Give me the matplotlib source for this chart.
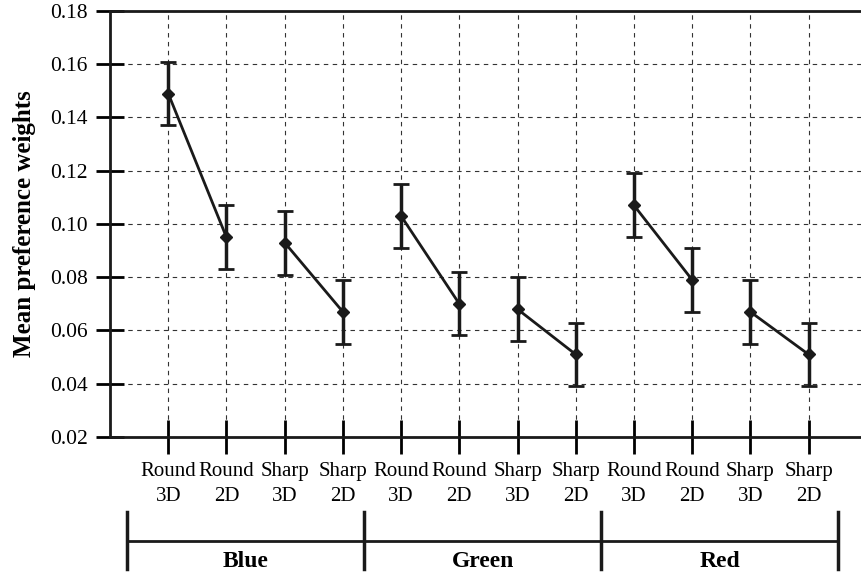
import matplotlib
matplotlib.use("Agg")
import matplotlib.pyplot as plt
import matplotlib.transforms as mtransforms

plt.rcParams["font.family"] = ["Liberation Serif", "DejaVu Serif"]

# data
labels = ["Round\n3D", "Round\n2D", "Sharp\n3D", "Sharp\n2D"] * 3
means = [0.149, 0.095, 0.093, 0.067,
         0.103, 0.070, 0.068, 0.051,
         0.107, 0.079, 0.067, 0.051]
errs = [0.012, 0.012, 0.012, 0.012,
        0.012, 0.0118, 0.012, 0.012,
        0.012, 0.012, 0.012, 0.012]
groups = ["Blue", "Green", "Red"]

x = list(range(1, len(means) + 1))

fig = plt.figure(figsize=(8.61, 5.75), dpi=100)
ax = fig.add_axes([0.1278, 0.24, 0.8722, 0.7409])

# pairs joined by a line
for i in range(0, len(means), 2):
    ax.errorbar(x[i:i + 2], means[i:i + 2], yerr=errs[i:i + 2], color="#1a1a1a",
                lw=2, marker="D", ms=6.5, capsize=6, capthick=2, elinewidth=2.5, zorder=3)

ax.set_xlim(0, 12.9)
ax.set_ylim(0.02, 0.18)
ax.set_yticks([0.02, 0.04, 0.06, 0.08, 0.10, 0.12, 0.14, 0.16, 0.18])
ax.set_yticklabels([f"{v:.2f}" for v in ax.get_yticks()], fontsize=15.5)
ax.set_xticks(x)
ax.set_xticklabels(labels, fontsize=15, linespacing=1.45)
ax.tick_params(axis="y", direction="inout", length=20, width=2, pad=6)
ax.tick_params(axis="x", direction="inout", length=24, width=2, pad=6)
ax.grid(True, ls=(0, (4, 4)), color="#333333", lw=0.8)
ax.set_ylabel("Mean preference weights", fontsize=18, fontweight="bold", labelpad=10)

for s in ["left", "bottom", "top"]:
    ax.spines[s].set_linewidth(2)
    ax.spines[s].set_color("#1a1a1a")
ax.spines["right"].set_visible(False)

# group brackets under the tick labels
trans = mtransforms.blended_transform_factory(ax.transData, ax.transAxes)
edges = [0.29, 4.36, 8.44, 12.51]
ybar = -0.245
ax.plot([edges[0], edges[-1]], [ybar, ybar], transform=trans, color="#1a1a1a",
        lw=2, clip_on=False)
for e in edges:
    ax.plot([e, e], [ybar + 0.068, ybar - 0.065], transform=trans, color="#1a1a1a",
            lw=2.5, clip_on=False)
for g, a, b in zip(groups, edges[:-1], edges[1:]):
    ax.text((a + b) / 2, ybar - 0.022, g, transform=trans, ha="center", va="top",
            fontsize=17, fontweight="bold")

fig.savefig("out.png", dpi=100, facecolor="white")
